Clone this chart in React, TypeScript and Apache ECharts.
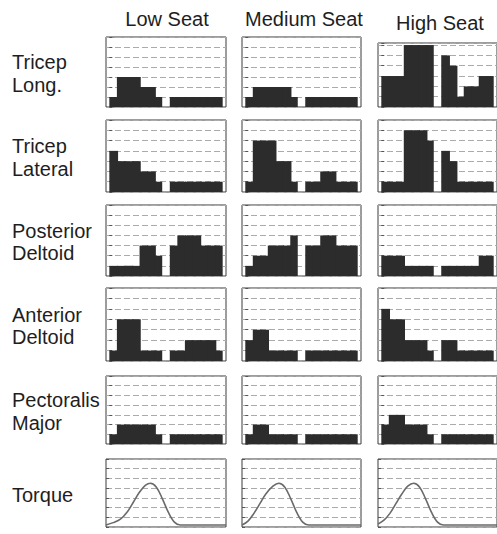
import React, { useEffect, useRef } from "react";
import * as echarts from "echarts";

// ---- Text ----
const seatTitles = ["Low Seat", "Medium Seat", "High Seat"];
const muscleLabels = [
  ["Tricep", "Long."],
  ["Tricep", "Lateral"],
  ["Posterior", "Deltoid"],
  ["Anterior", "Deltoid"],
  ["Pectoralis", "Major"],
  ["Torque"],
];

// ---- Histogram values (15 bins per panel, bin 7 is the gap) ----
const tricepLongLow = [1, 3, 3, 3, 2, 2, 1, 0, 1, 1, 1, 1, 1, 1, 1];
const tricepLongMed = [1, 2, 2, 2, 2, 2, 1, 0, 1, 1, 1, 1, 1, 1, 1];
const tricepLongHigh = [3, 3, 3, 6, 6, 6, 6, 0, 5, 4, 1, 2, 2, 3, 3];
const tricepLatLow = [4, 3, 3, 3, 2, 2, 1, 0, 1, 1, 1, 1, 1, 1, 1];
const tricepLatMed = [1, 5, 5, 5, 3, 3, 1, 0, 1, 1, 2, 2, 1, 1, 1];
const tricepLatHigh = [1, 1, 1, 6, 6, 6, 5, 0, 4, 3, 1, 1, 1, 1, 1];
const postDeltLow = [1, 1, 1, 1, 3, 3, 2, 0, 3, 4, 4, 4, 3, 3, 3];
const postDeltMed = [1, 2, 2, 3, 3, 3, 4, 0, 3, 3, 4, 4, 3, 3, 3];
const postDeltHigh = [2, 2, 2, 1, 1, 1, 1, 0, 1, 1, 1, 1, 1, 2, 2];
const antDeltLow = [1, 4, 4, 4, 1, 1, 1, 0, 1, 1, 2, 2, 2, 2, 1];
const antDeltMed = [2, 3, 3, 1, 1, 1, 1, 0, 1, 1, 1, 1, 1, 1, 1];
const antDeltHigh = [5, 4, 4, 2, 2, 2, 1, 0, 2, 2, 1, 1, 1, 1, 1];
const pecLow = [1, 2, 2, 2, 2, 2, 1, 0, 1, 1, 1, 1, 1, 1, 1];
const pecMed = [1, 2, 2, 1, 1, 1, 1, 0, 1, 1, 1, 1, 1, 1, 1];
const pecHigh = [2, 3, 3, 2, 2, 2, 1, 0, 1, 1, 1, 1, 1, 1, 1];

// ---- Torque curves (x in % of panel width) ----
const torqueLowX = [0, 6, 12, 18, 23, 28, 33, 37, 42, 47, 52, 57, 62, 100];
const torqueLowY = [0.2, 0.45, 0.8, 1.6, 2.6, 3.6, 4.3, 4.5, 4.1, 2.9, 1.5, 0.5, 0.2, 0.2];
const torqueMedX = [0, 5, 10, 15, 20, 26, 31, 36, 41, 46, 51, 56, 100];
const torqueMedY = [0.2, 0.6, 1.4, 2.4, 3.4, 4.2, 4.5, 4.1, 2.9, 1.5, 0.5, 0.2, 0.2];
const torqueHighX = [0, 5, 10, 15, 20, 25, 30, 35, 40, 45, 50, 55, 100];
const torqueHighY = [0.3, 0.7, 1.4, 2.4, 3.4, 4.2, 4.5, 4.1, 2.9, 1.5, 0.5, 0.2, 0.2];

const histRows = [
  [tricepLongLow, tricepLongMed, tricepLongHigh],
  [tricepLatLow, tricepLatMed, tricepLatHigh],
  [postDeltLow, postDeltMed, postDeltHigh],
  [antDeltLow, antDeltMed, antDeltHigh],
  [pecLow, pecMed, pecHigh],
];
const torqueXs = [torqueLowX, torqueMedX, torqueHighX];
const torqueYs = [torqueLowY, torqueMedY, torqueHighY];

// ---- Layout ----
const COL_LEFT = [106, 242, 378];
const COL_W = [120, 119, 120];
const ROW_TOP = [37, 120, 205, 288, 376, 459];
const ROW_H = [70, 72, 71, 73, 68, 68];
const TITLE_POS = [
  [167, 18.5],
  [304, 19],
  [440, 22.5],
];
const FONT = '20px "Liberation Sans", Arial, Helvetica, sans-serif';
const INK = "#2c2c2c";

export default function App() {
  const ref = useRef<HTMLDivElement>(null);

  useEffect(() => {
    if (!ref.current) return;
    const chart = echarts.init(ref.current, null, { renderer: "svg" });

    const grids: any[] = [];
    const xAxes: any[] = [];
    const yAxes: any[] = [];
    const series: any[] = [];
    const graphics: any[] = [];

    for (let r = 0; r < 6; r++) {
      for (let c = 0; c < 3; c++) {
        const idx = grids.length;
        let top = ROW_TOP[r];
        let h = ROW_H[r];
        let yMax = 7;
        if (r === 0 && c === 2) {
          top = 43;
          h = 64;
          yMax = 6.2;
        }
        const isTorque = r === 5;
        grids.push({
          left: COL_LEFT[c],
          top,
          width: COL_W[c],
          height: h,
          show: true,
          borderColor: "#3a3a3a",
          borderWidth: 1,
          backgroundColor: "transparent",
        });
        xAxes.push({
          type: "value",
          gridIndex: idx,
          min: isTorque ? 0 : -0.44,
          max: isTorque ? 100 : 15.44,
          axisLine: { show: false },
          axisTick: { show: false },
          axisLabel: { show: false },
          splitLine: { show: false },
        });
        yAxes.push({
          type: "value",
          gridIndex: idx,
          min: 0,
          max: yMax,
          interval: 1,
          axisLine: { show: false },
          axisLabel: { show: false },
          axisTick: { show: true, inside: true, length: 3, lineStyle: { color: "#555" } },
          splitLine: { show: true, lineStyle: { color: "#ababab", type: [6, 3], width: 1 } },
        });
        if (isTorque) {
          const xs = torqueXs[c];
          const ys = torqueYs[c];
          series.push({
            type: "line",
            xAxisIndex: idx,
            yAxisIndex: idx,
            data: xs.map((x, i) => [x, ys[i]]),
            smooth: 0.35,
            showSymbol: false,
            lineStyle: { color: "#6a6a6a", width: 1.6 },
          });
        } else {
          const vals = histRows[r][c];
          series.push({
            type: "custom",
            xAxisIndex: idx,
            yAxisIndex: idx,
            encode: { x: 0, y: 1 },
            data: vals.map((v, i) => [i, v]),
            renderItem: (params: any, api: any) => {
              const i = api.value(0);
              const v = api.value(1);
              if (!(v > 0)) return null;
              const p0 = api.coord([i, v]);
              const p1 = api.coord([i + 1, 0]);
              const next = vals[i + 1];
              const overlap = next && next > 0 ? 1.2 : 0;
              return {
                type: "rect",
                shape: {
                  x: p0[0],
                  y: p0[1],
                  width: p1[0] - p0[0] + overlap,
                  height: p1[1] - p0[1],
                },
                style: { fill: INK },
              };
            },
          });
        }
      }
    }

    seatTitles.forEach((t, c) => {
      graphics.push({
        type: "text",
        x: TITLE_POS[c][0],
        y: TITLE_POS[c][1],
        style: { text: t, font: FONT, fill: "#1e1e1e", align: "center", verticalAlign: "middle" },
      });
    });

    muscleLabels.forEach((lines, r) => {
      const center = ROW_TOP[r] + ROW_H[r] / 2 + 1.5;
      const lh = 22.5;
      lines.forEach((ln, k) => {
        const y = center + (k - (lines.length - 1) / 2) * lh;
        graphics.push({
          type: "text",
          x: 12,
          y,
          style: { text: ln, font: FONT, fill: "#1e1e1e", align: "left", verticalAlign: "middle" },
        });
      });
    });

    chart.setOption({
      animation: false,
      backgroundColor: "#ffffff",
      grid: grids,
      xAxis: xAxes,
      yAxis: yAxes,
      series,
      graphic: graphics,
    });

    return () => chart.dispose();
  }, []);

  return (
    <div
      ref={ref}
      style={{ position: "absolute", left: 0, top: 0, width: 497, height: 534 }}
    />
  );
}
